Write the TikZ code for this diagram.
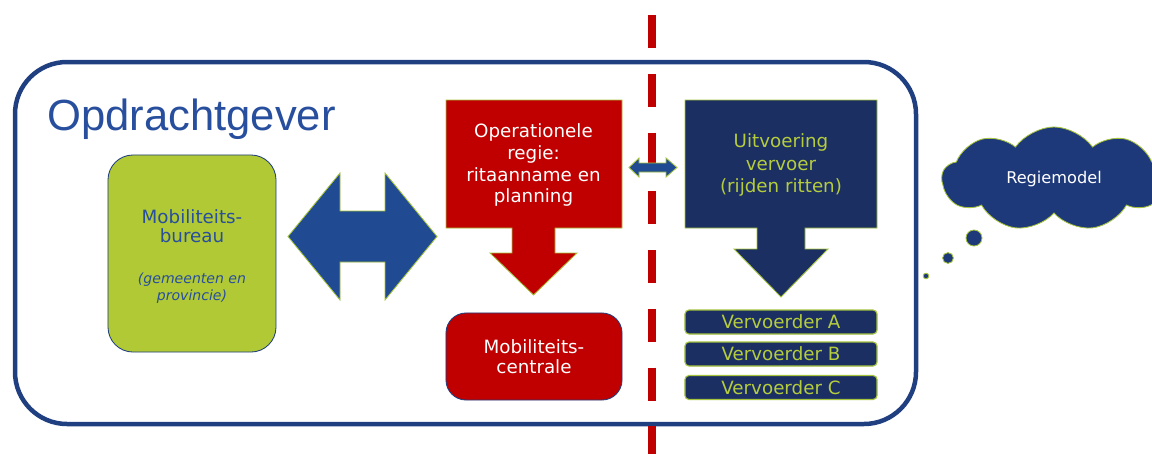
\documentclass[tikz,border=0pt]{standalone}
\usepackage{fontspec}
\setmainfont{DejaVu Sans}
\newfontfamily\titlefont{Liberation Sans}
\usetikzlibrary{shapes.symbols}

\definecolor{frameblue}{RGB}{31,63,128}
\definecolor{titleblue}{RGB}{40,78,158}
\definecolor{limegreen}{RGB}{176,201,52}
\definecolor{arrowblue}{RGB}{32,74,146}
\definecolor{regiered}{RGB}{192,0,0}
\definecolor{navy}{RGB}{27,47,98}
\definecolor{textgreen}{RGB}{181,205,61}
\definecolor{edgegreen}{RGB}{165,195,60}
\definecolor{cloudblue}{RGB}{30,57,122}

\tikzset{
  boxtext/.style={align=center, font=\fontsize{13}{15.6}\selectfont},
  redblock/.style={fill=regiered, draw=edgegreen, line width=0.6pt},
  navyblock/.style={fill=navy, draw=edgegreen, line width=0.6pt},
  carrier/.style={rectangle, rounded corners=0.1cm, fill=navy, draw=edgegreen,
    line width=0.8pt, minimum width=4.8cm, minimum height=0.6cm, inner sep=0pt,
    text=textgreen, font=\fontsize{13}{15.6}\selectfont},
  bubble/.style={circle, fill=cloudblue, draw=edgegreen, line width=0.6pt, inner sep=0pt}
}

\begin{document}
\begin{tikzpicture}[x=0.025cm, y=-0.025cm]
  \path[use as bounding box] (0,0) rectangle (1152,454);

  % opdrachtgever frame
  \draw[frameblue, line width=3.2pt, rounded corners=1.3cm, fill=white] (15,62) rectangle (916,424);
  \node[anchor=base west, text=titleblue, font=\titlefont\fontsize{31}{36}\selectfont, inner sep=0pt] (title) at (47,130) {Opdrachtgever};

  % split line
  \coordinate (dtop) at (652,15);
  \coordinate (dbot) at (652,454);
  \draw[regiered, line width=5.7pt, dash pattern=on 23.4pt off 18.4pt] (dtop) -- (dbot);

  % left side
  \node[rectangle, rounded corners=0.625cm, fill=limegreen, draw=frameblue, line width=0.6pt,
    minimum width=4.2cm, minimum height=4.925cm] (bureau) at (192,253.5) {};
  \node[boxtext, text=titleblue, font=\fontsize{13}{13.6}\selectfont] (bureautxt) at (192,226) {Mobiliteits-\\bureau};
  \node[align=center, text=titleblue, font=\itshape\fontsize{10}{12}\selectfont] (bureausub) at (192,288) {(gemeenten en\\provincie)};

  \filldraw[fill=arrowblue, draw=edgegreen, line width=0.6pt]
    (288,236.5) -- (340,173) -- (340,211) -- (385,211) -- (385,173) -- (437,236.5)
    -- (385,300) -- (385,262) -- (340,262) -- (340,300) -- cycle;

  % operationele regie
  \filldraw[redblock] (446,100) -- (622,100) -- (622,228) -- (555,228) -- (555,253) -- (577,253)
    -- (533.5,295) -- (490,253) -- (512,253) -- (512,228) -- (446,228) -- cycle;
  \node[boxtext, text=white] (regie) at (533.5,165) {Operationele\\regie:\\ritaanname en\\planning};

  \node[rectangle, rounded corners=0.5cm, fill=regiered, draw=frameblue, line width=0.6pt,
    minimum width=4.4cm, minimum height=2.175cm, boxtext, text=white, font=\fontsize{13}{14.2}\selectfont] (centrale) at (534,356.5) {Mobiliteits-\\centrale};

  \filldraw[fill=arrowblue, draw=edgegreen, line width=0.6pt]
    (629,167.5) -- (639,158) -- (639,163) -- (666,163) -- (666,158) -- (677,167.5)
    -- (666,177) -- (666,172) -- (639,172) -- (639,177) -- cycle;

  % uitvoering
  \filldraw[navyblock] (685,100) -- (877,100) -- (877,228) -- (805,228) -- (805,249) -- (828,249)
    -- (781,297) -- (734,249) -- (757,249) -- (757,228) -- (685,228) -- cycle;
  \node[boxtext, text=textgreen, font=\fontsize{13}{16}\selectfont] (uitvoering) at (781,165) {Uitvoering\\vervoer\\(rijden ritten)};

  \node[carrier] (vA) at (781,322) {Vervoerder A};
  \node[carrier] (vB) at (781,354) {Vervoerder B};
  \node[carrier] (vC) at (781,387.5) {Vervoerder C};

  % regiemodel cloud
  \node[cloud, cloud puffs=9, cloud puff arc=110, cloud ignores aspect, fill=cloudblue, draw=edgegreen, line width=0.6pt,
    minimum width=5.6cm, minimum height=2.6cm, text=white, font=\fontsize{11.5}{13}\selectfont] (cloud) at (1054,179) {Regiemodel};
  \node[bubble, minimum size=0.4cm] (b1) at (974,238) {};
  \node[bubble, minimum size=0.27cm] (b2) at (948,258) {};
  \node[bubble, minimum size=0.14cm] (b3) at (926,276) {};
\end{tikzpicture}
\end{document}
